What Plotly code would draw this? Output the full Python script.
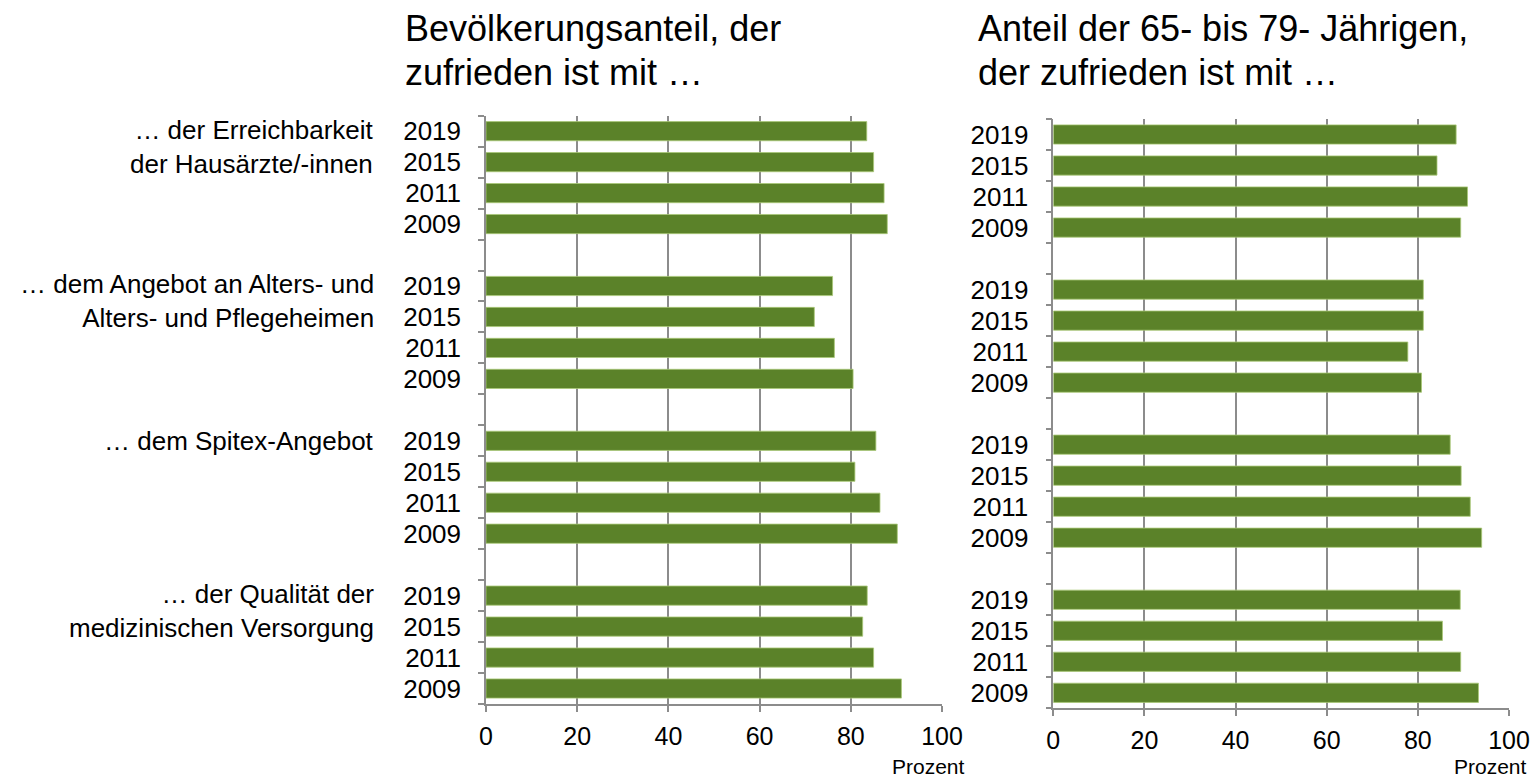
import plotly.graph_objects as go

# ---- data ----
years = ["2019", "2015", "2011", "2009"]
group_labels = [
    "… der Erreichbarkeit<br>der Hausärzte/-innen",
    "… dem Angebot an Alters- und<br>Alters- und Pflegeheimen",
    "… dem Spitex-Angebot",
    "… der Qualität der<br>medizinischen Versorgung",
]
# values per group, in order of years (2019, 2015, 2011, 2009)
bevoelkerung = [
    [83.5, 85.0, 87.3, 88.0],
    [76.0, 72.0, 76.4, 80.5],
    [85.5, 80.9, 86.4, 90.2],
    [83.6, 82.6, 85.0, 91.1],
]
senioren = [
    [88.4, 84.2, 90.9, 89.4],
    [81.2, 81.2, 77.8, 80.8],
    [87.1, 89.5, 91.5, 94.0],
    [89.3, 85.4, 89.4, 93.3],
]
x_ticks = [0, 20, 40, 60, 80, 100]
titles = [
    ["Bevölkerungsanteil, der", "zufrieden ist mit …"],
    ["Anteil der 65- bis 79- Jährigen,", "der zufrieden ist mit …"],
]
unit_label = "Prozent"

# ---- categories (with empty gap rows between groups) ----
cats, ticktext = [], []
for gi in range(len(group_labels)):
    for y in years:
        cats.append(f"g{gi}|{y}")
        ticktext.append(y)
    if gi < len(group_labels) - 1:
        cats.append(f"gap{gi}")
        ticktext.append("")

def flat(vals):
    xs, ys = [], []
    for gi, row in enumerate(vals):
        for y, v in zip(years, row):
            xs.append(v)
            ys.append(f"g{gi}|{y}")
    return xs, ys

W, H = 1536, 779
def PX(px):
    return px / W
def PY(py):
    return 1 - py / H

BAR = "#5b8229"
GRID = "#8c8c8c"
FONT = "Liberation Sans, Arial, sans-serif"

fig = go.Figure()
for i, vals in enumerate([bevoelkerung, senioren]):
    xs, ys = flat(vals)
    fig.add_trace(go.Bar(
        x=xs, y=ys, orientation="h",
        marker=dict(color=BAR, line=dict(color="rgba(170,200,120,0.8)", width=1)),
        width=0.62,
        xaxis="x" if i == 0 else "x2",
        yaxis="y" if i == 0 else "y2",
        showlegend=False, hoverinfo="x+y",
    ))

xcommon = dict(
    range=[0, 100], tickvals=x_ticks, ticktext=[str(t) for t in x_ticks],
    showgrid=True, gridcolor=GRID, gridwidth=1.5,
    showline=True, linecolor=GRID, linewidth=1.5,
    ticks="outside", ticklen=6, tickcolor=GRID, tickwidth=1.5,
    zeroline=False, tickfont=dict(size=25, color="black", family=FONT),
    ticklabelstandoff=3, fixedrange=True, automargin=False,
)
ycommon = dict(
    type="category", categoryorder="array", categoryarray=cats,
    tickvals=cats, ticktext=ticktext, tickson="boundaries",
    range=[len(cats) - 0.5, -0.5],
    showgrid=False, showline=True, linecolor=GRID, linewidth=1.5,
    ticks="outside", ticklen=6, tickcolor=GRID, tickwidth=1.5,
    tickfont=dict(size=26, color="black", family=FONT),
    ticklabelstandoff=18, zeroline=False, fixedrange=True, automargin=False,
)

fig.update_layout(
    width=W, height=H, autosize=False,
    margin=dict(l=0, r=0, t=0, b=0, pad=0),
    paper_bgcolor="white", plot_bgcolor="white",
    font=dict(family=FONT, color="black"),
    bargap=0.38,
    xaxis=dict(domain=[PX(486), PX(942)], anchor="y", **xcommon),
    yaxis=dict(domain=[PY(704), PY(115.7)], anchor="x", **ycommon),
    xaxis2=dict(domain=[PX(1053.3), PX(1509)], anchor="y2", **xcommon),
    yaxis2=dict(domain=[PY(708.3), PY(119)], anchor="x2", **ycommon),
)

ann = []
# panel titles
for (l1, l2), x0 in zip(titles, [403, 976]):
    for line, yc in [(l1, 28), (l2, 72)]:
        ann.append(dict(text=line, x=PX(x0), y=PY(yc), xref="paper", yref="paper",
                        xanchor="left", yanchor="middle", showarrow=False,
                        font=dict(size=36, family=FONT, color="black")))
# group labels
for gi, lab in enumerate(group_labels):
    first = cats.index(f"g{gi}|{years[0]}")
    ypos = first + 0.5 if "<br>" in lab else first
    ann.append(dict(text=lab, x=PX(376), y=ypos, xref="paper", yref="y",
                    xanchor="right", yanchor="middle", align="right", showarrow=False,
                    font=dict(size=26, family=FONT, color="black")))
# unit labels
for xr in [967, 1529]:
    ann.append(dict(text=unit_label, x=PX(xr), y=PY(766), xref="paper", yref="paper",
                    xanchor="right", yanchor="middle", showarrow=False,
                    font=dict(size=21, family=FONT, color="black")))
fig.update_layout(annotations=ann)

post = (
    "document.documentElement.style.overflow='hidden';"
    "document.body.style.margin='0';document.body.style.overflow='hidden';"
)
fig.write_html("out.html", post_script=post, config={"displayModeBar": False})
